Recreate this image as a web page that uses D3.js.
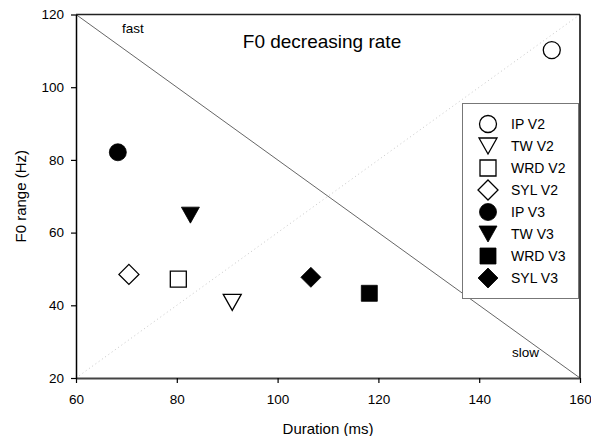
<!DOCTYPE html>
<html><head><meta charset="utf-8">
<script src="https://cdn.jsdelivr.net/npm/d3@7"></script>
<style>
body{margin:0;background:#fff;}
text{font-family:"Liberation Sans",Arial,sans-serif;fill:#000;}
</style></head>
<body><svg id="c" width="591" height="436"></svg>
<script>
const labels = ["IP V2","TW V2","WRD V2","SYL V2","IP V3","TW V3","WRD V3","SYL V3"];
const durations = [154.4, 91.0, 80.3, 70.5, 68.3, 82.7, 118.2, 106.6];
const f0ranges = [110.2, 40.8, 47.2, 48.5, 82.1, 64.8, 43.3, 47.7];
const shapes = ["circle","triangle","square","diamond","circle","triangle","square","diamond"];
const filled = [false,false,false,false,true,true,true,true];
const xTicks = [60,80,100,120,140,160];
const yTicks = [20,40,60,80,100,120];
const xDomain = [60,160];
const yDomain = [20,120];

const svg = d3.select("#c");
const L=76, R=580, T=14.5, B=378;
const x = d3.scaleLinear().domain(xDomain).range([L,R]);
const y = d3.scaleLinear().domain(yDomain).range([B,T]);

// diagonal reference lines
svg.append("line").attr("x1",x(60)).attr("y1",y(120)).attr("x2",x(160)).attr("y2",y(20))
  .attr("stroke","#555").attr("stroke-width",0.9);
svg.append("line").attr("x1",x(60)).attr("y1",y(20)).attr("x2",x(160)).attr("y2",y(120))
  .attr("stroke","#c8c8c8").attr("stroke-width",1).attr("stroke-dasharray","1,3");

// frame top/right
svg.append("line").attr("x1",L).attr("x2",R).attr("y1",T).attr("y2",T).attr("stroke","#222").attr("stroke-width",1.5);
svg.append("line").attr("x1",R).attr("x2",R).attr("y1",T).attr("y2",B).attr("stroke","#000").attr("stroke-width",1.5);

// axes
const xa = svg.append("g").attr("transform",`translate(0,${B})`)
  .call(d3.axisBottom(x).tickValues(xTicks).tickSize(5).tickPadding(11).tickSizeOuter(0));
const ya = svg.append("g").attr("transform",`translate(${L},0)`)
  .call(d3.axisLeft(y).tickValues(yTicks).tickSize(5).tickPadding(7).tickSizeOuter(0));
[xa,ya].forEach(g=>{
  g.selectAll("text").style("font-size","13.5px").style("font-family","'Liberation Sans',Arial,sans-serif").attr("fill","#000");
  g.selectAll(".tick line").attr("stroke","#000").attr("stroke-width",1.2);
});
xa.select(".domain").attr("stroke","#444").attr("stroke-width",2.2);
ya.select(".domain").attr("stroke","#000").attr("stroke-width",1.5);

// shape paths
function shapePath(s){
  switch(s){
    case "circle": return d3.symbol(d3.symbolCircle, Math.PI*8.5*8.5)();
    case "square": return "M-8,-8H8V8H-8Z";
    case "diamond": return "M0,-10L10,0L0,10L-10,0Z";
    case "triangle": return "M-9,-8L9,-8L0,8Z";
  }
}

// points
const data = labels.map((l,i)=>({l, d:durations[i], f:f0ranges[i], s:shapes[i], fill:filled[i]}));
svg.append("g").selectAll("path").data(data).join("path")
  .attr("d",d=>shapePath(d.s))
  .attr("transform",d=>`translate(${x(d.d)},${y(d.f)})`)
  .attr("fill",d=>d.fill?"#000":"#fff")
  .attr("stroke","#000").attr("stroke-width",d=>d.fill?0.8:1.3);

// texts
svg.append("text").attr("x",322).attr("y",48).attr("text-anchor","middle").style("font-size","19px").text("F0 decreasing rate");
svg.append("text").attr("x",122).attr("y",33).style("font-size","13.5px").text("fast");
svg.append("text").attr("x",512).attr("y",357).style("font-size","13.5px").text("slow");
svg.append("text").attr("x",(L+R)/2).attr("y",434).attr("text-anchor","middle").style("font-size","15px").text("Duration (ms)");
svg.append("text").attr("transform",`translate(26,${(T+B)/2}) rotate(-90)`).attr("text-anchor","middle").style("font-size","15px").text("F0 range (Hz)");

// legend
const lg = svg.append("g");
lg.append("rect").attr("x",462.5).attr("y",103.5).attr("width",116).attr("height",195)
  .attr("fill","#fff").attr("stroke","#777").attr("stroke-width",1);
const rows = lg.selectAll("g.row").data(data).join("g").attr("class","row")
  .attr("transform",(d,i)=>`translate(488,${124+i*22})`);
rows.append("path").attr("d",d=>shapePath(d.s))
  .attr("fill",d=>d.fill?"#000":"#fff").attr("stroke","#000").attr("stroke-width",d=>d.fill?0.8:1.3);
rows.append("text").attr("x",23).attr("y",5).style("font-size","14px").text(d=>d.l);
</script></body></html>
